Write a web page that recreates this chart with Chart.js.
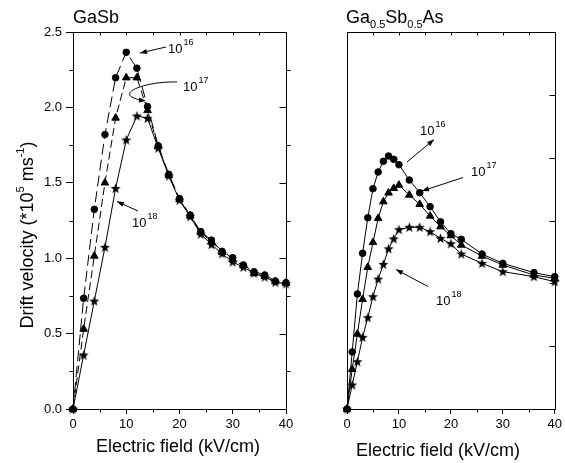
<!DOCTYPE html>
<html><head><meta charset="utf-8">
<script src="https://cdn.jsdelivr.net/npm/chart.js@4/dist/chart.umd.min.js"></script>
<style>
html,body{margin:0;padding:0;background:#fff;}
#wrap{position:relative;width:565px;height:463px;overflow:hidden;background:#fff;}
#c1{position:absolute;left:0;top:0;width:300px;height:463px;}
#c2{position:absolute;left:300px;top:0;width:265px;height:463px;}
</style></head><body>
<div id="wrap"><canvas id="c1" width="300" height="463"></canvas><canvas id="c2" width="265" height="463"></canvas></div>
<script>
// ---------- data ----------
const gasbField = [0,2,4,6,8,10,12,14,16,18,20,22,24,26,28,30,32,34,36,38,40];
const gasb1e16  = [0,0.734,1.324,1.82,2.197,2.365,2.26,2.005,1.745,1.556,1.395,1.286,1.176,1.12,1.045,1.003,0.955,0.91,0.889,0.849,0.838];
const gasb1e17  = [0,0.53,1.015,1.50,1.93,2.197,2.197,1.98,1.74,1.55,1.39,1.28,1.17,1.11,1.04,0.99,0.95,0.90,0.88,0.845,0.835];
const gasb1e18  = [0,0.358,0.716,1.072,1.463,1.784,1.943,1.928,1.73,1.545,1.385,1.275,1.16,1.09,1.03,0.975,0.94,0.90,0.875,0.84,0.83];

const alloyField = [0,1,2,3,4,5,6,7,8,9,10,12,14,16,18,20,22,26,30,36,40];
const alloy1e16  = [0,0.454,0.915,1.239,1.522,1.753,1.886,1.971,2.013,1.987,1.944,1.822,1.721,1.61,1.49,1.395,1.35,1.233,1.159,1.085,1.053];
const alloy1e17  = [0,0.316,0.597,0.873,1.128,1.326,1.517,1.65,1.72,1.756,1.782,1.703,1.629,1.536,1.451,1.38,1.305,1.217,1.146,1.066,1.04];
const alloy1e18  = [0,0.191,0.376,0.57,0.727,0.894,1.034,1.151,1.275,1.354,1.427,1.446,1.446,1.411,1.358,1.315,1.233,1.159,1.093,1.053,1.013];

const xTickValues = [0,10,20,30,40];
const xMinorTicks = [5,15,25,35];
const xTopTicks = [5,10,15,20,25,30,35];
const gasbYTickValues = [0,0.5,1.0,1.5,2.0,2.5];
const gasbYMinorTicks = [0.25,0.75,1.25,1.75,2.25];
const alloyYTicks = [0.5,1.0,1.5,2.0,2.5];

// ---------- helpers ----------
const FONT = '"Liberation Sans", Arial, Helvetica, sans-serif';
Chart.defaults.font.family = FONT;
Chart.defaults.font.size = 13;
Chart.defaults.color = '#000';

function pts(xs, ys){ return xs.map((x,i)=>({x:x, y:ys[i]})); }

function starImage(){
  const c = document.createElement('canvas'); c.width = 11; c.height = 11;
  const g = c.getContext('2d'); g.fillStyle = '#000'; g.beginPath();
  for (let i=0;i<10;i++){
    const r = (i%2) ? 2.2 : 5.3;
    const ang = -Math.PI/2 + i*Math.PI/5;
    const px = 5.5 + r*Math.cos(ang), py = 5.9 + r*Math.sin(ang);
    if (i) g.lineTo(px,py); else g.moveTo(px,py);
  }
  g.closePath(); g.fill();
  return c;
}
const STAR = starImage();

function ds(label, data, marker, dash){
  return {
    label: label, data: data, showLine: true, fill: false, tension: 0, clip: false,
    borderColor: '#000', backgroundColor: '#000', borderWidth: 1, borderDash: dash || [],
    pointStyle: marker, pointRadius: marker === 'triangle' ? 4.4 : (marker === 'circle' ? 3.3 : 5),
    pointBorderWidth: 1, pointBorderColor: '#000', pointBackgroundColor: '#000'
  };
}

function seg(ctx, x1, y1, x2, y2){ ctx.beginPath(); ctx.moveTo(x1,y1); ctx.lineTo(x2,y2); ctx.stroke(); }

function head(ctx, x, y, fromX, fromY){
  const ang = Math.atan2(y-fromY, x-fromX), L = 7, W = 2.6;
  ctx.beginPath();
  ctx.moveTo(x, y);
  ctx.lineTo(x - L*Math.cos(ang) + W*Math.sin(ang), y - L*Math.sin(ang) - W*Math.cos(ang));
  ctx.lineTo(x - L*Math.cos(ang) - W*Math.sin(ang), y - L*Math.sin(ang) + W*Math.cos(ang));
  ctx.closePath(); ctx.fill();
}
function arrow(ctx, x1, y1, x2, y2){ seg(ctx, x1, y1, x2, y2); head(ctx, x2, y2, x1, y1); }

function tenPow(ctx, x, base, exp){
  ctx.textAlign = 'left'; ctx.textBaseline = 'alphabetic';
  ctx.font = '13px ' + FONT; ctx.fillText('10', x, base);
  const w = ctx.measureText('10').width;
  ctx.font = '9px ' + FONT; ctx.fillText(exp, x + w + 1, base - 8);
}

function richText(ctx, parts, x, y, align){
  let total = 0;
  parts.forEach(p => { ctx.font = p[1] + 'px ' + FONT; total += ctx.measureText(p[0]).width; });
  let cx = align === 'center' ? x - total/2 : x;
  ctx.textAlign = 'left'; ctx.textBaseline = 'alphabetic';
  parts.forEach(p => { ctx.font = p[1] + 'px ' + FONT; ctx.fillText(p[0], cx, y + p[2]); cx += ctx.measureText(p[0]).width; });
}

function frame(ctx, a){
  ctx.strokeRect(Math.round(a.left)+0.5, Math.round(a.top)+0.5, Math.round(a.right)-Math.round(a.left), Math.round(a.bottom)-Math.round(a.top));
}

// ---------- left chart: GaSb ----------
const leftDecor = {
  id: 'leftDecor',
  afterDraw(chart){
    const ctx = chart.ctx, a = chart.chartArea, x = chart.scales.x, y = chart.scales.y;
    ctx.save();
    ctx.strokeStyle = '#000'; ctx.fillStyle = '#000'; ctx.lineWidth = 1; ctx.setLineDash([]);
    frame(ctx, a);
    const L = Math.round(a.left)+0.5, R = Math.round(a.right)+0.5, T = Math.round(a.top)+0.5, B = Math.round(a.bottom)+0.5;
    gasbYMinorTicks.forEach(v => { const p = Math.round(y.getPixelForValue(v))+0.5; seg(ctx, L-4, p, L, p); seg(ctx, R, p, R+4, p); });
    gasbYTickValues.forEach(v => { if (v>0 && v<2.5){ const p = Math.round(y.getPixelForValue(v))+0.5; seg(ctx, R-7, p, R, p); } });
    xMinorTicks.forEach(v => { const p = Math.round(x.getPixelForValue(v))+0.5; seg(ctx, p, B, p, B+3); });
    xTopTicks.forEach(v => { const p = Math.round(x.getPixelForValue(v))+0.5; seg(ctx, p, T, p, T+3); });

    ctx.font = '18px ' + FONT; ctx.textAlign = 'left'; ctx.textBaseline = 'alphabetic';
    ctx.fillText('GaSb', 73, 23);
    ctx.textAlign = 'center'; ctx.fillText('Electric field (kV/cm)', 178, 452);
    ctx.save(); ctx.translate(33, 235); ctx.rotate(-Math.PI/2);
    richText(ctx, [['Drift velocity (*10',18,0],['5',11,-9],[' ms',18,0],['-1',11,-9],[')',18,0]], 0, 0, 'center');
    ctx.restore();

    tenPow(ctx, 168, 53, '16');
    tenPow(ctx, 183, 91, '17');
    tenPow(ctx, 132, 227, '18');
    ctx.lineWidth = 1;
    arrow(ctx, 166, 47, 140, 53);
    ctx.beginPath(); ctx.moveTo(177, 82); ctx.bezierCurveTo(148, 81, 118, 92, 134, 98); ctx.quadraticCurveTo(138, 100, 141, 100); ctx.stroke();
    head(ctx, 146, 101, 136, 99.5);
    arrow(ctx, 138, 211, 117, 201.5);
    ctx.restore();
  }
};

new Chart(document.getElementById('c1'), {
  type: 'scatter',
  data: { datasets: [
    ds('10^16', pts(gasbField, gasb1e16), 'circle', [11,5]),
    ds('10^17', pts(gasbField, gasb1e17), 'triangle', [8,4]),
    ds('10^18', pts(gasbField, gasb1e18), STAR, [])
  ]},
  options: {
    responsive: false, animation: false, events: [],
    layout: { padding: { left: 0, top: 32, right: 14, bottom: 0 } },
    plugins: { legend: { display: false }, tooltip: { enabled: false } },
    scales: {
      x: { type: 'linear', min: 0, max: 40,
        afterBuildTicks: s => { s.ticks = xTickValues.map(v => ({ value: v })); },
        ticks: { autoSkip: false, maxRotation: 0, padding: 3, color: '#000', font: { size: 13 } },
        grid: { drawOnChartArea: false, tickLength: 5, tickColor: '#000' },
        border: { display: false },
        afterFit: s => { s.height = 54; } },
      y: { type: 'linear', min: 0, max: 2.5,
        afterBuildTicks: s => { s.ticks = gasbYTickValues.map(v => ({ value: v })); },
        ticks: { padding: 4, color: '#000', font: { size: 13 }, callback: v => Number(v).toFixed(1) },
        grid: { drawOnChartArea: false, tickLength: 7, tickColor: '#000' },
        border: { display: false },
        afterFit: s => { s.width = 73; } }
    }
  },
  plugins: [leftDecor]
});

// ---------- right chart: Ga0.5Sb0.5As ----------
const rightDecor = {
  id: 'rightDecor',
  afterDraw(chart){
    const ctx = chart.ctx, a = chart.chartArea, x = chart.scales.x, y = chart.scales.y;
    ctx.save();
    ctx.strokeStyle = '#000'; ctx.fillStyle = '#000'; ctx.lineWidth = 1; ctx.setLineDash([]);
    frame(ctx, a);
    const R = Math.round(a.right)+0.5, T = Math.round(a.top)+0.5, B = Math.round(a.bottom)+0.5;
    alloyYTicks.forEach(v => { const p = Math.round(y.getPixelForValue(v))+0.5; seg(ctx, R-6, p, R, p); });
    xMinorTicks.forEach(v => { const p = Math.round(x.getPixelForValue(v))+0.5; seg(ctx, p, B, p, B+3); });
    xTopTicks.forEach(v => { const p = Math.round(x.getPixelForValue(v))+0.5; seg(ctx, p, T, p, T+3); });

    ctx.translate(-300, 0);
    richText(ctx, [['Ga',18,0],['0.5',11,5],['Sb',18,0],['0.5',11,5],['As',18,0]], 346, 23, 'left');
    ctx.font = '18px ' + FONT; ctx.textAlign = 'center'; ctx.textBaseline = 'alphabetic';
    ctx.fillText('Electric field (kV/cm)', 438, 456);

    tenPow(ctx, 420, 135, '16');
    tenPow(ctx, 471, 176, '17');
    tenPow(ctx, 436, 305, '18');
    arrow(ctx, 407, 162, 434, 139.5);
    arrow(ctx, 463, 177.5, 422, 191);
    arrow(ctx, 428, 286.5, 396, 269.5);
    ctx.restore();
  }
};

new Chart(document.getElementById('c2'), {
  type: 'scatter',
  data: { datasets: [
    ds('10^16', pts(alloyField, alloy1e16), 'circle', []),
    ds('10^17', pts(alloyField, alloy1e17), 'triangle', []),
    ds('10^18', pts(alloyField, alloy1e18), STAR, [])
  ]},
  options: {
    responsive: false, animation: false, events: [],
    layout: { padding: { left: 47, top: 32, right: 6, bottom: 0 } },
    plugins: { legend: { display: false }, tooltip: { enabled: false } },
    scales: {
      x: { type: 'linear', min: 0, max: 40,
        afterBuildTicks: s => { s.ticks = xTickValues.map(v => ({ value: v })); },
        ticks: { autoSkip: false, maxRotation: 0, padding: 3, color: '#000', font: { size: 13 } },
        grid: { drawOnChartArea: false, tickLength: 5, tickColor: '#000' },
        border: { display: false },
        afterFit: s => { s.height = 54; } },
      y: { type: 'linear', min: 0, max: 3.0, display: false }
    }
  },
  plugins: [rightDecor]
});
</script>
</body></html>
